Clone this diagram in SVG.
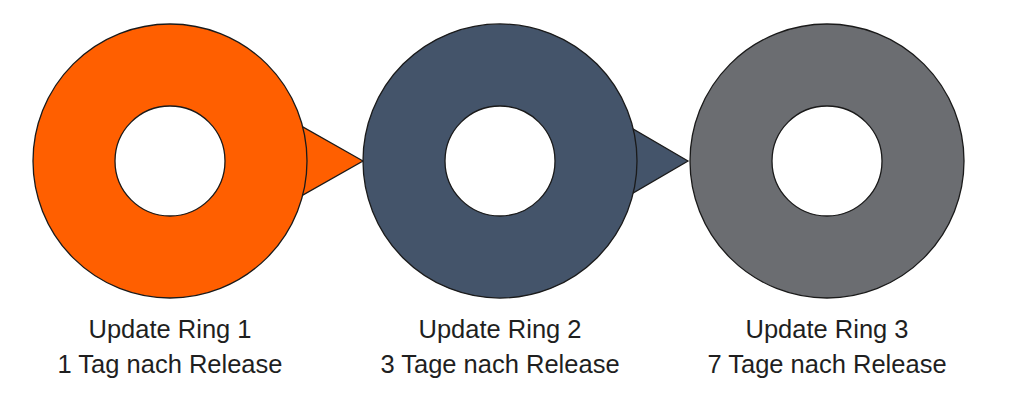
<svg xmlns="http://www.w3.org/2000/svg" width="1026" height="406" viewBox="0 0 1026 406">
<style>
.ring{fill-rule:evenodd;stroke:#1a1a1a;stroke-width:1.3}
.arr{stroke:#1a1a1a;stroke-width:1.3;stroke-linejoin:miter}
.lbl{font-family:"Liberation Sans",Arial,sans-serif;font-size:25.5px;fill:#1f1f1f;text-anchor:middle}
</style>
<rect width="1026" height="406" fill="#ffffff"/>
<g id="connectors">
<polygon class="arr" points="363,161 290,119.6 290,202.4" fill="#FF5F00"/>
<polygon class="arr" points="688,161 615,118.5 615,203.5" fill="#44546A"/>
</g>
<g id="ring1">
<path class="ring" fill="#FF5F00" d="M33,161a137,137 0 1,0 274,0a137,137 0 1,0 -274,0z M115,161a55,55 0 1,0 110,0a55,55 0 1,0 -110,0z"/>
<text class="lbl" x="170" y="337.5">Update Ring 1</text>
<text class="lbl" x="170" y="373">1 Tag nach Release</text>
</g>
<g id="ring2">
<path class="ring" fill="#44546A" d="M363,161a137,137 0 1,0 274,0a137,137 0 1,0 -274,0z M445,161a55,55 0 1,0 110,0a55,55 0 1,0 -110,0z"/>
<text class="lbl" x="500" y="337.5">Update Ring 2</text>
<text class="lbl" x="500" y="373">3 Tage nach Release</text>
</g>
<g id="ring3">
<path class="ring" fill="#6B6D71" d="M690,161a137,137 0 1,0 274,0a137,137 0 1,0 -274,0z M772,161a55,55 0 1,0 110,0a55,55 0 1,0 -110,0z"/>
<text class="lbl" x="827" y="337.5">Update Ring 3</text>
<text class="lbl" x="827" y="373">7 Tage nach Release</text>
</g>
</svg>
